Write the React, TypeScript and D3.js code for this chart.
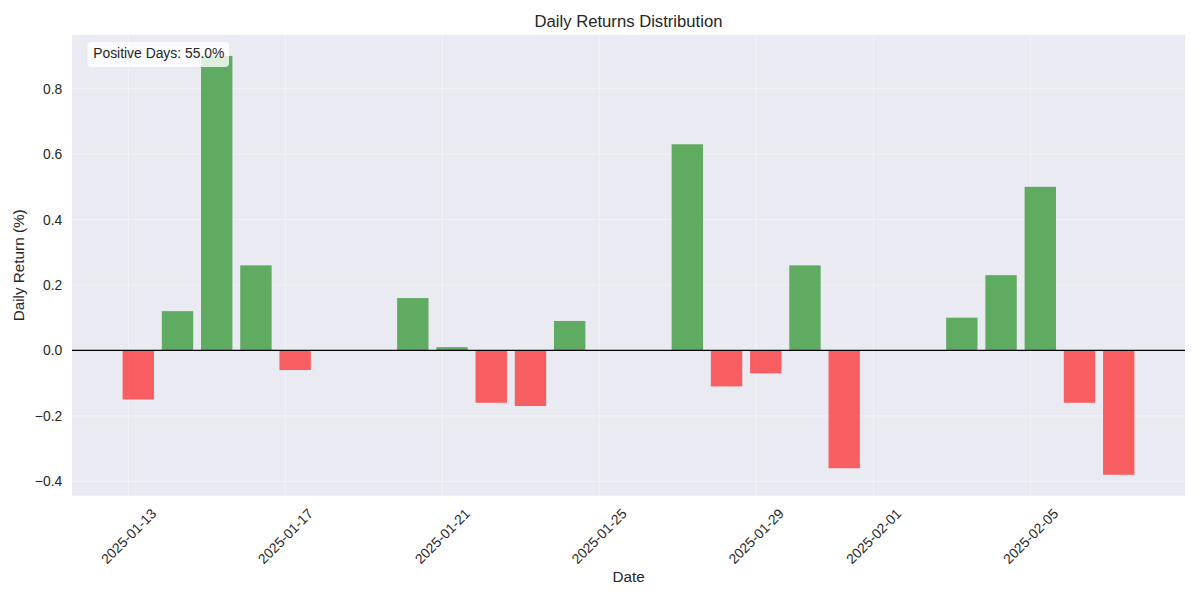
import React from "react";
import * as d3 from "d3";

const dates = [
  "2025-01-13", "2025-01-14", "2025-01-15", "2025-01-16", "2025-01-17",
  "2025-01-20", "2025-01-21", "2025-01-22", "2025-01-23", "2025-01-24",
  "2025-01-27", "2025-01-28", "2025-01-29", "2025-01-30", "2025-01-31",
  "2025-02-03", "2025-02-04", "2025-02-05", "2025-02-06", "2025-02-07",
];
const returns = [
  -0.15, 0.12, 0.90, 0.26, -0.06,
  0.16, 0.01, -0.16, -0.17, 0.09,
  0.63, -0.11, -0.07, 0.26, -0.36,
  0.10, 0.23, 0.50, -0.16, -0.38,
];
const xTickLabels = ["2025-01-13", "2025-01-17", "2025-01-21", "2025-01-25", "2025-01-29", "2025-02-01", "2025-02-05"];
const yTicks = [-0.4, -0.2, 0.0, 0.2, 0.4, 0.6, 0.8];
const barTimeOfDay = "T06:00:00";

const W = 1200, H = 600;
const M = { left: 72, right: 1185, top: 35, bottom: 495.7 };
const FONT = "'Liberation Sans', Arial, Helvetica, sans-serif";
const TXT = "#262626";
const PT = 100 / 72;
const DAY = 86400000;

const parse = (s: string) => new Date(s + "T00:00:00");
const barDates = dates.map((d) => new Date(d + barTimeOfDay));

let ctx: CanvasRenderingContext2D | null = null;
function measure(text: string, size: number) {
  if (!ctx) ctx = document.createElement("canvas").getContext("2d");
  if (!ctx) return text.length * size * 0.55;
  ctx.font = `${size}px 'Liberation Sans', Arial, sans-serif`;
  return ctx.measureText(text).width;
}

export default function App() {
  const barW = 0.8 * DAY;
  const t0 = +d3.min(barDates)! - barW / 2;
  const t1 = +d3.max(barDates)! + barW / 2;
  const padT = (t1 - t0) * 0.05;
  const x = d3.scaleTime().domain([new Date(t0 - padT), new Date(t1 + padT)]).range([M.left, M.right]);

  const v0 = d3.min(returns)!, v1 = d3.max(returns)!;
  const padV = (v1 - v0) * 0.05;
  const y = d3.scaleLinear().domain([v0 - padV, v1 + padV]).range([M.bottom, M.top]);

  const fmt = d3.format(".1f");
  const tickFs = 10 * PT;
  const labelFs = 11 * PT;
  const titleFs = 12 * PT;
  const pad = 7 * PT;

  const positive = returns.filter((r) => r > 0).length / returns.length * 100;
  const legendText = `Positive Days: ${positive.toFixed(1)}%`;

  const pxW = x(new Date(t0 + barW)) - x(new Date(t0));

  return (
    <svg width={W} height={H} style={{ display: "block", position: "absolute", left: 0, top: 0 }} fontFamily={FONT}>
      <rect x={0} y={0} width={W} height={H} fill="#ffffff" />
      <rect x={M.left} y={M.top} width={M.right - M.left} height={M.bottom - M.top} fill="#eaeaf2" />
      {/* grid */}
      <g stroke="#ffffff" strokeOpacity={0.35} strokeWidth={1.2}>
        {yTicks.map((t) => (
          <line key={"gy" + t} x1={M.left} x2={M.right} y1={y(t)} y2={y(t)} />
        ))}
        {xTickLabels.map((t) => (
          <line key={"gx" + t} x1={x(parse(t))} x2={x(parse(t))} y1={M.top} y2={M.bottom} />
        ))}
      </g>
      {/* bars */}
      <g>
        {returns.map((r, i) => {
          const cx = x(barDates[i]);
          const yt = y(Math.max(0, r));
          const yb = y(Math.min(0, r));
          return (
            <rect
              key={i}
              x={cx - pxW / 2}
              y={yt}
              width={pxW}
              height={yb - yt}
              fill={r > 0 ? "#008000" : "#ff0000"}
              fillOpacity={0.6}
            />
          );
        })}
      </g>
      <line x1={M.left} x2={M.right} y1={y(0)} y2={y(0)} stroke="#000000" strokeWidth={1.1} />
      {/* y ticks */}
      <g fontSize={tickFs} fill={TXT}>
        {yTicks.map((t) => (
          <text key={"yt" + t} x={M.left - pad} y={y(t)} textAnchor="end" dominantBaseline="central">
            {fmt(t)}
          </text>
        ))}
      </g>
      {/* x ticks */}
      <g fontSize={tickFs} fill={TXT}>
        {xTickLabels.map((t) => {
          const w = measure(t, tickFs);
          const h = tickFs * 1.15;
          const D = (w + h) / Math.SQRT2;
          const cx = x(parse(t));
          const cy = M.bottom + pad + D / 2;
          return (
            <text key={"xt" + t} transform={`translate(${cx},${cy}) rotate(-45)`} textAnchor="middle" dominantBaseline="central">
              {t}
            </text>
          );
        })}
      </g>
      {/* labels */}
      <text x={(M.left + M.right) / 2} y={582} textAnchor="middle" fontSize={labelFs} fill={TXT}>Date</text>
      <text transform={`translate(24,${(M.top + M.bottom) / 2}) rotate(-90)`} textAnchor="middle" fontSize={labelFs} fill={TXT}>
        Daily Return (%)
      </text>
      <text x={(M.left + M.right) / 2} y={M.top - 6 * PT} textAnchor="middle" fontSize={titleFs} fill={TXT}>
        Daily Returns Distribution
      </text>
      {/* annotation box */}
      <rect x={87.5} y={42} width={141.5} height={25} rx={4} ry={4} fill="#ffffff" fillOpacity={0.8} />
      <text x={93.2} y={58} fontSize={tickFs} fill={TXT}>{legendText}</text>
    </svg>
  );
}
